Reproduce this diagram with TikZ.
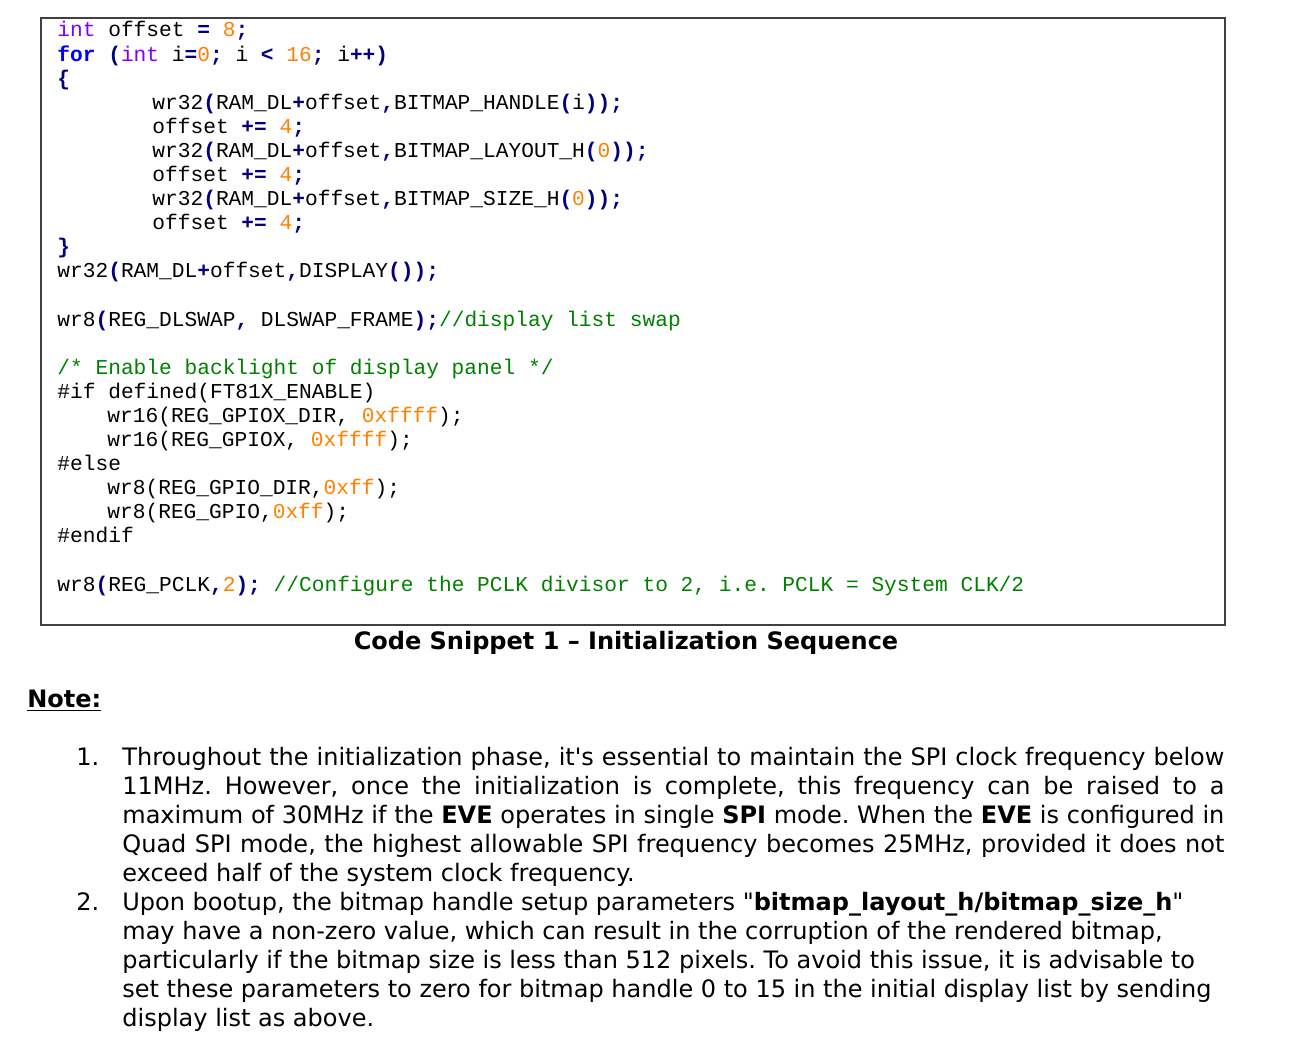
\documentclass[tikz,border=0pt]{standalone}
\usepackage{fontspec}
\setmainfont{DejaVu Sans}
\newfontfamily\codefont{Liberation Mono}
\definecolor{ctype}{HTML}{8000FF}
\definecolor{ckey}{HTML}{0000FF}
\definecolor{cop}{HTML}{000080}
\definecolor{cnum}{HTML}{FF8000}
\definecolor{ccmt}{HTML}{008000}
\definecolor{cframe}{HTML}{404040}
\newcommand\ctype[1]{\textcolor{ctype}{#1}}
\newcommand\ckey[1]{\textcolor{ckey}{\bfseries #1}}
\newcommand\cop[1]{\textcolor{cop}{\bfseries #1}}
\newcommand\cnum[1]{\textcolor{cnum}{#1}}
\newcommand\ccmt[1]{\textcolor{ccmt}{#1}}
\frenchspacing
\tikzset{
  codeline/.style={anchor=base west, inner sep=0pt, font=\codefont\fontsize{10.6pt}{12pt}\selectfont},
  bodyline/.style={anchor=base west, inner sep=0pt, font=\fontsize{12pt}{14.5pt}\selectfont},
  frame/.style={draw=cframe, line width=0.75pt},
  declare function={ly(\n)=37+24.09*(\n-1); by(\n)=765+29*(\n-1);}
}
\begin{document}
\begin{tikzpicture}[x=0.5pt,y=-0.5pt]
    \useasboundingbox (0,0) rectangle (1310,1058);
    % code snippet box
    \draw[frame] (41,18) rectangle (1225,625);
    \node[codeline] (c1) at (57,{ly(1)}) {\ctype{int} offset \cop{=} \cnum{8}\cop{;}};
    \node[codeline] (c2) at (57,{ly(2)}) {\ckey{for} \cop{(}\ctype{int} i\cop{=}\cnum{0}\cop{;} i \cop{<} \cnum{16}\cop{;} i\cop{++)}};
    \node[codeline] (c3) at (57,{ly(3)}) {\cop{\{}};
    \node[codeline] (c4) at (152,{ly(4)}) {wr32\cop{(}RAM\_DL\cop{+}offset\cop{,}BITMAP\_HANDLE\cop{(}i\cop{));}};
    \node[codeline] (c5) at (152,{ly(5)}) {offset \cop{+=} \cnum{4}\cop{;}};
    \node[codeline] (c6) at (152,{ly(6)}) {wr32\cop{(}RAM\_DL\cop{+}offset\cop{,}BITMAP\_LAYOUT\_H\cop{(}\cnum{0}\cop{));}};
    \node[codeline] (c7) at (152,{ly(7)}) {offset \cop{+=} \cnum{4}\cop{;}};
    \node[codeline] (c8) at (152,{ly(8)}) {wr32\cop{(}RAM\_DL\cop{+}offset\cop{,}BITMAP\_SIZE\_H\cop{(}\cnum{0}\cop{));}};
    \node[codeline] (c9) at (152,{ly(9)}) {offset \cop{+=} \cnum{4}\cop{;}};
    \node[codeline] (c10) at (57,{ly(10)}) {\cop{\}}};
    \node[codeline] (c11) at (57,{ly(11)}) {wr32\cop{(}RAM\_DL\cop{+}offset\cop{,}DISPLAY\cop{());}};
    \node[codeline] (c13) at (57,{ly(13)}) {wr8\cop{(}REG\_DLSWAP\cop{,} DLSWAP\_FRAME\cop{);}\ccmt{//display list swap}};
    \node[codeline] (c15) at (57,{ly(15)}) {\ccmt{/* Enable backlight of display panel */}};
    \node[codeline] (c16) at (57,{ly(16)}) {\#if defined(FT81X\_ENABLE)};
    \node[codeline] (c17) at (107,{ly(17)}) {wr16(REG\_GPIOX\_DIR, \cnum{0xffff});};
    \node[codeline] (c18) at (107,{ly(18)}) {wr16(REG\_GPIOX, \cnum{0xffff});};
    \node[codeline] (c19) at (57,{ly(19)}) {\#else};
    \node[codeline] (c20) at (107,{ly(20)}) {wr8(REG\_GPIO\_DIR,\cnum{0xff});};
    \node[codeline] (c21) at (107,{ly(21)}) {wr8(REG\_GPIO,\cnum{0xff});};
    \node[codeline] (c22) at (57,{ly(22)}) {\#endif};
    \node[codeline] (c24) at (57,{ly(24)}) {wr8\cop{(}REG\_PCLK\cop{,}\cnum{2}\cop{);} \ccmt{//Configure the PCLK divisor to 2, i.e. PCLK = System CLK/2}};
    % caption and notes
    \node[bodyline, anchor=base, font=\fontsize{12pt}{14.5pt}\selectfont\bfseries] (caption) at (626,649) {Code Snippet 1 – Initialization Sequence};
    \node[bodyline, font=\fontsize{12pt}{14.5pt}\selectfont\bfseries] (note) at (27,707) {\underline{Note:}};
    \node[bodyline] (n1) at (76,{by(1)}) {1.};
    \node[bodyline] (n1a) at (122,{by(1)}) {\makebox[551pt][s]{Throughout the initialization phase, it\textquotesingle s essential to maintain the SPI clock frequency below}};
    \node[bodyline] (n1b) at (122,{by(2)}) {\makebox[551pt][s]{11MHz. However, once the initialization is complete, this frequency can be raised to a}};
    \node[bodyline] (n1c) at (122,{by(3)}) {\makebox[551pt][s]{maximum of 30MHz if the \textbf{EVE} operates in single \textbf{SPI} mode. When the \textbf{EVE} is configured in}};
    \node[bodyline] (n1d) at (122,{by(4)}) {\makebox[551pt][s]{Quad SPI mode, the highest allowable SPI frequency becomes 25MHz, provided it does not}};
    \node[bodyline] (n1e) at (122,{by(5)}) {exceed half of the system clock frequency.};
    \node[bodyline] (n2) at (76,{by(6)}) {2.};
    \node[bodyline] (n2a) at (122,{by(6)}) {Upon bootup, the bitmap handle setup parameters \textquotedbl\textbf{bitmap\_layout\_h/bitmap\_size\_h}\textquotedbl};
    \node[bodyline] (n2b) at (122,{by(7)}) {may have a non-zero value, which can result in the corruption of the rendered bitmap,};
    \node[bodyline] (n2c) at (122,{by(8)}) {particularly if the bitmap size is less than 512 pixels. To avoid this issue, it is advisable to};
    \node[bodyline] (n2d) at (122,{by(9)}) {set these parameters to zero for bitmap handle 0 to 15 in the initial display list by sending};
    \node[bodyline] (n2e) at (122,{by(10)}) {display list as above.};
\end{tikzpicture}
\end{document}
